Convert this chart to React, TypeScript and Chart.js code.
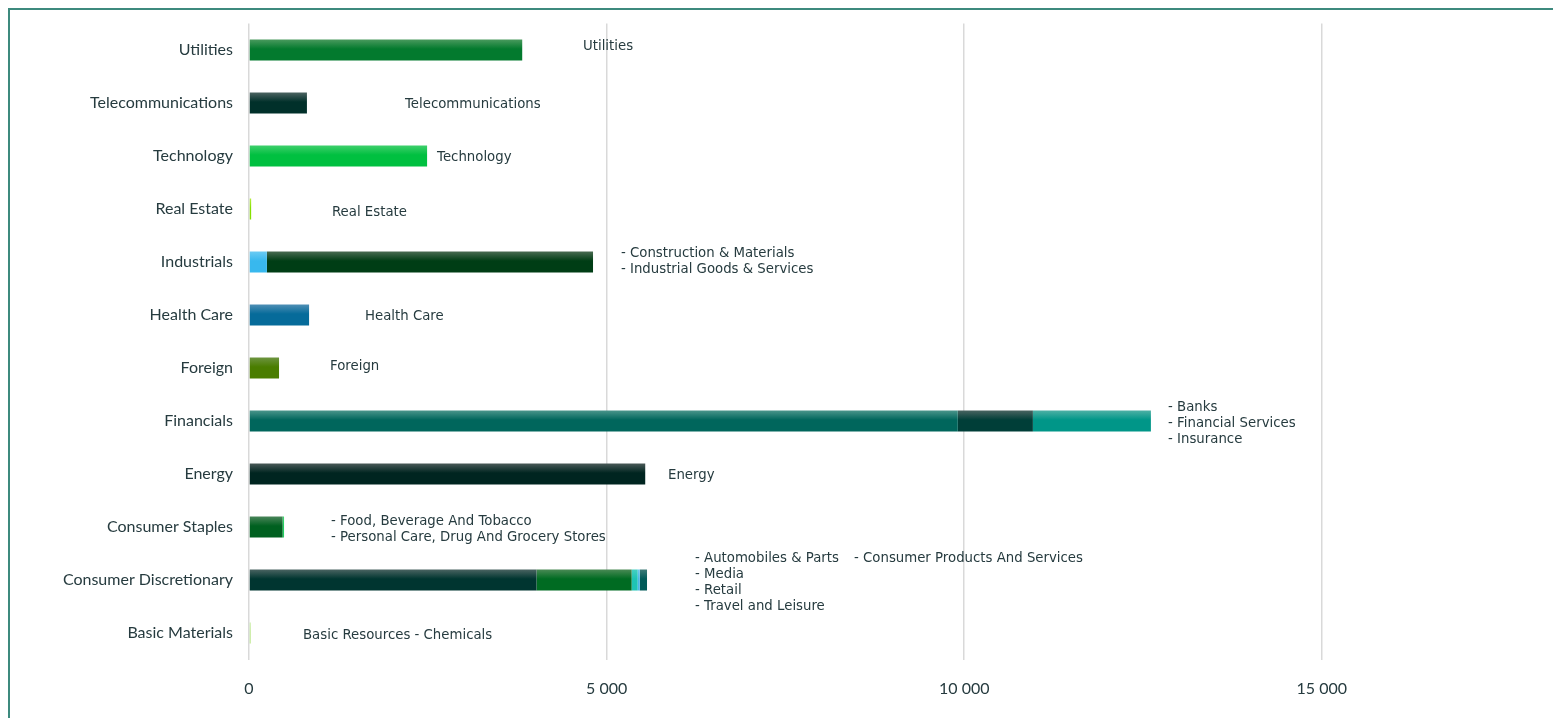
import React, { useEffect, useRef } from "react";
import { Chart, registerables } from "chart.js";

Chart.register(...registerables);

// Sectors, listed top to bottom
const categories = [
  "Utilities",
  "Telecommunications",
  "Technology",
  "Real Estate",
  "Industrials",
  "Health Care",
  "Foreign",
  "Financials",
  "Energy",
  "Consumer Staples",
  "Consumer Discretionary",
  "Basic Materials",
];

// Sub-sector segments (stacked within each sector)
const segSector = [
  "Utilities",
  "Telecommunications",
  "Technology",
  "Real Estate",
  "Industrials",
  "Industrials",
  "Health Care",
  "Foreign",
  "Financials",
  "Financials",
  "Financials",
  "Energy",
  "Consumer Staples",
  "Consumer Staples",
  "Consumer Discretionary",
  "Consumer Discretionary",
  "Consumer Discretionary",
  "Consumer Discretionary",
  "Consumer Discretionary",
  "Basic Materials",
  "Basic Materials",
];
const segName = [
  "Utilities",
  "Telecommunications",
  "Technology",
  "Real Estate",
  "Construction & Materials",
  "Industrial Goods & Services",
  "Health Care",
  "Foreign",
  "Banks",
  "Financial Services",
  "Insurance",
  "Energy",
  "Food, Beverage And Tobacco",
  "Personal Care, Drug And Grocery Stores",
  "Automobiles & Parts",
  "Consumer Products And Services",
  "Media",
  "Retail",
  "Travel and Leisure",
  "Basic Resources",
  "Chemicals",
];
const segValue = [
  3820, 810, 2490, 30, 250, 4560, 840, 420, 9910, 1050, 1650, 5540, 470, 20,
  4020, 1330, 85, 28, 102, 15, 10,
];

// Tick values of the x axis
const xTicks = [0, 5000, 10000, 15000];
const xMax = 18000;

// Text labels beside bars
const labelRow = [
  "Utilities",
  "Telecommunications",
  "Technology",
  "Real Estate",
  "Industrials",
  "Health Care",
  "Foreign",
  "Financials",
  "Energy",
  "Consumer Staples",
  "Consumer Discretionary",
  "Consumer Discretionary",
  "Basic Materials",
];
const labelLines = [
  ["Utilities"],
  ["Telecommunications"],
  ["Technology"],
  ["Real Estate"],
  ["- Construction & Materials", "- Industrial Goods & Services"],
  ["Health Care"],
  ["Foreign"],
  ["- Banks", "- Financial Services", "- Insurance"],
  ["Energy"],
  ["- Food, Beverage And Tobacco", "- Personal Care, Drug And Grocery Stores"],
  ["- Automobiles & Parts", "- Media", "- Retail", "- Travel and Leisure"],
  ["- Consumer Products And Services"],
  ["Basic Resources - Chemicals"],
];
// label placement (x in axis units, y shift in px) - layout only
const labelAtX = [
  4670, 2181, 2629, 1160, 5201, 1622, 1133, 12850, 5858, 1147, 6236, 8459, 755,
];
const labelDy = [-3, 2, 2, 4, 0, 2, -1, 3, 2, 3, 3, -21, 3];

// colours: [top highlight, body]
const segColors: [string, string][] = [
  ["#4a9a5e", "#037a2e"],
  ["#4d6462", "#01302a"],
  ["#3fcf6c", "#00c040"],
  ["#b6ee40", "#86e000"],
  ["#6ccbf3", "#38b8ee"],
  ["#4a6b52", "#003d15"],
  ["#4f8fb5", "#066b9a"],
  ["#6d9440", "#4a7d00"],
  ["#4b958b", "#00665c"],
  ["#4a6461", "#003e38"],
  ["#4fb0a5", "#009688"],
  ["#4a5a58", "#002520"],
  ["#4a855a", "#006020"],
  ["#40d870", "#20d060"],
  ["#4b6462", "#003530"],
  ["#4a8a55", "#006b22"],
  ["#45d0c2", "#1fc4b4"],
  ["#70c8f0", "#4ab8e8"],
  ["#3f7b78", "#005a58"],
  ["#b4e890", "#a0e070"],
  ["#cdeeaa", "#c0e890"],
];

const textColor = "#263b3f";

const fmt = (v: number) => String(v).replace(/\B(?=(\d{3})+(?!\d))/g, " ");

const labelPlugin = {
  id: "sideLabels",
  afterDatasetsDraw(chart: any) {
    const { ctx, scales } = chart;
    ctx.save();
    ctx.font = "13.3px 'DejaVu Sans'";
    ctx.fillStyle = textColor;
    ctx.textAlign = "left";
    ctx.textBaseline = "middle";
    const lh = 16;
    labelRow.forEach((row, i) => {
      const idx = categories.indexOf(row);
      const cy = scales.y.getPixelForValue(idx) + labelDy[i];
      const x = scales.x.getPixelForValue(labelAtX[i]);
      const lines = labelLines[i];
      const start = cy - ((lines.length - 1) * lh) / 2;
      lines.forEach((t, j) => ctx.fillText(t, x, start + j * lh));
    });
    ctx.restore();
  },
};

export default function App() {
  const ref = useRef<HTMLCanvasElement | null>(null);

  useEffect(() => {
    document.documentElement.style.overflow = "hidden";
    const canvas = ref.current;
    if (!canvas) return;

    const datasets = segName.map((name, i) => {
      const idx = categories.indexOf(segSector[i]);
      const data = categories.map((_, k) => (k === idx ? segValue[i] : null));
      const [top, body] = segColors[i];
      return {
        label: name,
        data,
        borderWidth: 0,
        categoryPercentage: 1,
        barPercentage: 0.4,
        backgroundColor: (c: any) => {
          const chart = c.chart;
          if (!chart.chartArea || c.dataIndex === undefined) return body;
          const yScale = chart.scales.y;
          const y = yScale.getPixelForValue(c.dataIndex);
          const h = 10.6;
          const g = chart.ctx.createLinearGradient(0, y - h, 0, y + h);
          g.addColorStop(0, top);
          g.addColorStop(0.45, body);
          g.addColorStop(1, body);
          return g;
        },
      };
    });

    const chart = new Chart(canvas, {
      type: "bar",
      data: { labels: categories, datasets },
      plugins: [labelPlugin],
      options: {
        indexAxis: "y",
        animation: false,
        responsive: false,
        maintainAspectRatio: false,
        layout: { padding: { top: 13.5, right: 24.6, bottom: 0, left: 0 } },
        plugins: {
          legend: { display: false },
          tooltip: { enabled: false },
        },
        scales: {
          x: {
            stacked: true,
            min: 0,
            max: xMax,
            afterFit: (s: any) => {
              s.height = 58.5;
              s.paddingLeft = 0;
              s.paddingRight = 0;
            },
            afterBuildTicks: (s: any) => {
              s.ticks = xTicks.map((v) => ({ value: v }));
            },
            border: { display: false },
            grid: {
              color: "#d9d9d9",
              lineWidth: 1.5,
              drawTicks: false,
            },
            ticks: {
              padding: 20,
              color: textColor,
              font: { family: "Lato", size: 16 },
              callback: (v: any) => fmt(Number(v)),
            },
          },
          y: {
            stacked: true,
            afterFit: (s: any) => {
              s.width = 239;
              s.paddingTop = 0;
              s.paddingBottom = 0;
            },
            border: { display: false },
            grid: { display: false, drawTicks: false },
            ticks: {
              padding: 16,
              color: textColor,
              font: { family: "Lato", size: 16 },
            },
          },
        },
      },
    });
    return () => chart.destroy();
  }, []);

  return (
    <div
      style={{
        borderTop: "2px solid #3d8a7e",
        borderLeft: "2px solid #3d8a7e",
        width: 1551,
        height: 708,
        boxSizing: "content-box",
      }}
    >
      <canvas ref={ref} width={1551} height={708} style={{ display: "block" }} />
    </div>
  );
}
